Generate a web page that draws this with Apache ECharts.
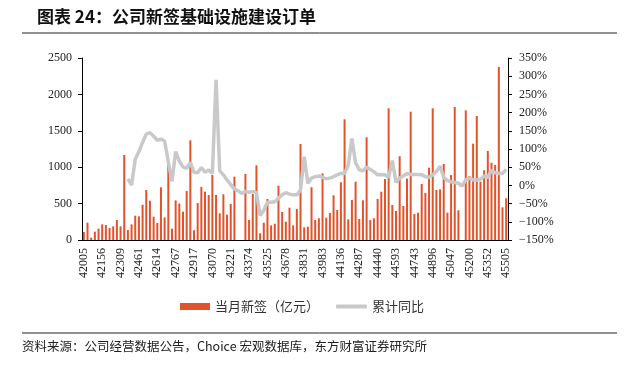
<!DOCTYPE html>
<html>
<head>
<meta charset="utf-8">
<script src="https://cdn.jsdelivr.net/npm/echarts@6/dist/echarts.min.js"></script>
<style>
  html, body { margin: 0; padding: 0; background: #fff; }
  #main { width: 635px; height: 369px; }
</style>
</head>
<body>
<div id="main"></div>
<script>
// months 2015-01 .. 2024-08, shown as Excel date serials
var startYear = 2015, monthCount = 116;

// 当月新签（亿元）
var newOrders = [
  110, 238, 32, 115, 156, 215, 206, 165, 188, 275,
  188, 1168, 137, 215, 334, 325, 485, 687, 540, 320,
  234, 724, 311, 1050, 156, 545, 500, 389, 673, 1369,
  133, 508, 730, 664, 618, 893, 618, 366, 628, 348,
  495, 870, null, null, 907, 275, 632, 1026, 92, 238,
  563, 201, 224, 746, 385, 252, 444, 201, 426, 1319,
  174, 183, 724, 275, 298, 916, 307, 371, 614, 412,
  793, 1658, 284, 550, 801, 288, 545, 1411, 275, 298,
  563, 664, 838, 1809, 481, 398, 1150, 467, 843, 1763,
  357, 375, 769, 646, 994, 1809, 687, 696, 1044, 375,
  893, 1827, 408, null, 1781, 879, 1323, 1704, 801, 957,
  1223, 1062, 1031, 2377, 449, 573
];

// 累计同比 (%)
var cumYoy = [
  null, null, null, null, null, null, null, null, null, null,
  null, null, 18, 1, 72, 93, 118, 141, 145, 135,
  124, 127, 122, 65, 11, 93, 67, 51, 47, 63,
  36, 35, 49, 36, 42, 33, 290, 40, 29, 15,
  2, -10, -15, -22, -17, -19, -17, -20, -83, -68,
  -46, -46, -45, -35, -26, -20, -24, -26, -26, -13,
  79, 6, 20, 24, 26, 22, 18, 20, 24, 29,
  33, 33, 56, 129, 61, 43, 40, 50, 44, 37,
  29, 30, 29, 22, 68, 8, 20, 26, 33, 30,
  30, 30, 29, 24, 22, 29, 38, 53, 22, 13,
  10, 8, 6, -2, 15, 20, 15, 15, 17, 26,
  22, 42, 35, 33, 33, 44
];

var legendNames = ['当月新签（亿元）', '累计同比'];
var titleText = '图表 24：公司新签基础设施建设订单';
var sourceText = '资料来源：公司经营数据公告，Choice 宏观数据库，东方财富证券研究所';

function excelSerial(y, m) {
  var ms = Date.UTC(y, m, 1) - Date.UTC(1899, 11, 30);
  return Math.round(ms / 86400000);
}
var months = [];
for (var i = 0; i < monthCount; i++) {
  months.push(String(excelSerial(startYear + Math.floor(i / 12), i % 12)));
}

var chart = echarts.init(document.getElementById('main'));
var serif = '"Liberation Serif", "Times New Roman", serif';
var cjk = '"Noto Sans CJK SC", sans-serif';

var option = {
  animation: false,
  backgroundColor: '#fff',
  grid: { left: 82, right: 127, top: 58, bottom: 129 },
  legend: [{
    left: 175, top: 295,
    itemWidth: 30, itemHeight: 7,
    textStyle: { fontFamily: cjk, fontSize: 13, color: '#333' },
    data: [{ name: legendNames[0], icon: 'rect' }]
  }, {
    left: 331, top: 295,
    itemWidth: 31, itemHeight: 4,
    textStyle: { fontFamily: cjk, fontSize: 13, color: '#333' },
    data: [{ name: legendNames[1], icon: 'roundRect' }]
  }],
  xAxis: {
    type: 'category',
    data: months,
    axisLine: { lineStyle: { color: '#000', width: 1 } },
    axisTick: { show: false },
    axisLabel: {
      interval: 4, rotate: 90, margin: 8,
      fontFamily: serif, fontSize: 12, color: '#222'
    }
  },
  yAxis: [{
    type: 'value', min: 0, max: 2500, interval: 500,
    splitLine: { show: false },
    axisLine: { show: true, lineStyle: { color: '#000' } },
    axisTick: { show: true, length: 4, lineStyle: { color: '#000' } },
    axisLabel: {
      margin: 10, fontFamily: serif, fontSize: 12, color: '#222',
      formatter: function (v) { return String(v); }
    }
  }, {
    type: 'value', min: -150, max: 350, interval: 50,
    splitLine: { show: false },
    axisLine: { show: true, lineStyle: { color: '#000' } },
    axisTick: { show: true, length: 4, lineStyle: { color: '#000' } },
    axisLabel: {
      margin: 11, fontFamily: serif, fontSize: 12, color: '#222',
      formatter: function (v) { return (v < 0 ? '\u2212' + (-v) : v) + '%'; }
    }
  }],
  series: [{
    name: legendNames[0],
    type: 'bar',
    data: newOrders,
    barWidth: 2,
    itemStyle: { color: '#E2532B' }
  }, {
    name: legendNames[1],
    type: 'line',
    yAxisIndex: 1,
    data: cumYoy,
    symbol: 'none',
    lineStyle: { color: '#C9C9C9', width: 3.5 },
    itemStyle: { color: '#C9C9C9' }
  }],
  graphic: [
    { type: 'text', left: 37, top: 8,
      style: { text: titleText, font: 'bold 17px ' + cjk, fill: '#111' } },
    { type: 'line', shape: { x1: 22, y1: 33, x2: 617, y2: 33 },
      style: { stroke: '#222', lineWidth: 1 } },
    { type: 'line', shape: { x1: 22, y1: 333, x2: 617, y2: 333 },
      style: { stroke: '#222', lineWidth: 1 } },
    { type: 'text', left: 22, top: 340,
      style: { text: sourceText, font: '12.5px ' + cjk, fill: '#222' } }
  ]
};
chart.setOption(option);
</script>
</body>
</html>
